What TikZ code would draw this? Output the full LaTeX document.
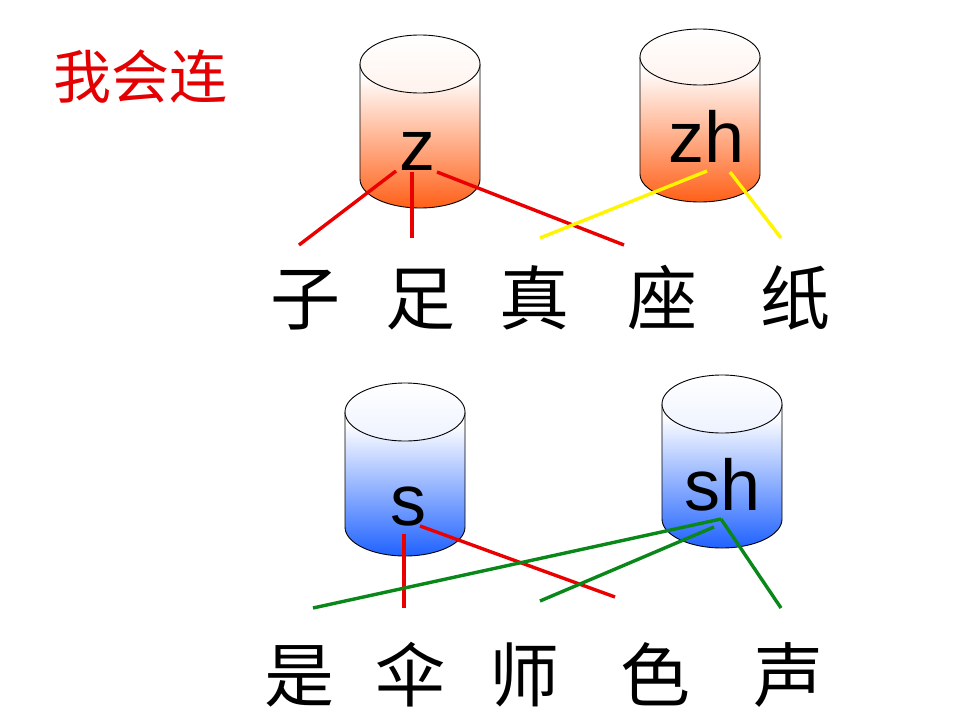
\documentclass[tikz,border=0pt]{standalone}
\usepackage{fontspec}
\setmainfont{Liberation Sans}
\newfontfamily\cjk{Noto Sans CJK SC}
\definecolor{cylred}{RGB}{255,96,24}
\definecolor{cylblue}{RGB}{32,98,255}
\definecolor{lnred}{RGB}{235,0,0}
\definecolor{lnyellow}{RGB}{255,245,0}
\definecolor{lngreen}{RGB}{10,135,25}
\definecolor{titlered}{RGB}{228,0,0}
\tikzset{
  hanzi/.style={font=\cjk\fontsize{70}{70}\selectfont, anchor=base, inner sep=0pt},
  pinyin/.style={font=\fontsize{72}{72}\selectfont, anchor=base, inner sep=0pt},
  link/.style={line width=3.4pt},
}
% \cylinder{name}{cx}{top centre y}{bottom centre y}{ry}{colour}
\newcommand{\cylinder}[6]{%
  \shade[top color=white, bottom color=#6]
    (#2-60,#3+12) -- (#2-60,#4) arc[start angle=180,end angle=360,x radius=60pt,y radius=#5pt]
    -- (#2+60,#3+12) -- cycle;
  \fill[white] (#2-60,#3) rectangle (#2+60,#3+12);
  \draw[line width=0.9pt] (#2-60,#3) -- (#2-60,#4) arc[start angle=180,end angle=360,x radius=60pt,y radius=#5pt]
    -- (#2+60,#3);
  \shade[top color=white, bottom color=#6!8, draw=black, line width=0.9pt]
    (#2,#3) ellipse[x radius=60pt, y radius=#5pt];
  \coordinate (#1) at (#2,#3);
}
\begin{document}
\begin{tikzpicture}[x=1pt,y=-1pt]
\useasboundingbox (0,0) rectangle (960,720);
\fill[white] (0,0) rectangle (960,720);

\node[font=\cjk\fontsize{58}{58}\selectfont, text=titlered, anchor=base, inner sep=0pt] (title) at (140,98) {我会连};

\cylinder{cz}{420}{64}{179}{29}{cylred}
\cylinder{czh}{700}{57}{174}{28}{cylred}
\cylinder{cs}{405}{412}{527}{29}{cylblue}
\cylinder{csh}{722}{404}{519}{29}{cylblue}

\node[pinyin] (z) at (417,170) {z};
\node[pinyin] (zh) at (707,162) {zh};
\node[pinyin] (s) at (408,525) {s};
\node[pinyin] (sh) at (723,510) {sh};

\node[hanzi] (zi) at (305,324) {子};
\node[hanzi] (zu) at (420,324) {足};
\node[hanzi] (zhen) at (534,324) {真};
\node[hanzi] (zuo) at (662,324) {座};
\node[hanzi] (zhi) at (795,324) {纸};

\node[hanzi] (shi) at (299,701) {是};
\node[hanzi] (san) at (410,701) {伞};
\node[hanzi] (shi2) at (524,701) {师};
\node[hanzi] (se) at (655,701) {色};
\node[hanzi] (sheng) at (788,701) {声};

% line end points
\coordinate (z1) at (396,171);
\coordinate (z2) at (412,172);
\coordinate (z3) at (437,172);
\coordinate (zi1) at (299,245);
\coordinate (zu1) at (412,238);
\coordinate (zuo1) at (624,245);
\coordinate (zh1) at (707,171);
\coordinate (zh2) at (730,172);
\coordinate (zhen1) at (540,238);
\coordinate (zhi1) at (781,238);
\coordinate (s1) at (404,534);
\coordinate (s2) at (420,526);
\coordinate (san1) at (404,608);
\coordinate (se1) at (615,597);
\coordinate (sh1) at (721,519);
\coordinate (sh2) at (714,527);
\coordinate (shi1) at (313,608);
\coordinate (shi21) at (540,601);
\coordinate (sheng1) at (781,608);

\draw[link, lnred] (z1) -- (zi1);
\draw[link, lnred] (z2) -- (zu1);
\draw[link, lnred] (z3) -- (zuo1);
\draw[link, lnyellow] (zh1) -- (zhen1);
\draw[link, lnyellow] (zh2) -- (zhi1);
\draw[link, lnred] (s1) -- (san1);
\draw[link, lnred] (s2) -- (se1);
\draw[link, lngreen] (sh1) -- (shi1);
\draw[link, lngreen] (sh2) -- (shi21);
\draw[link, lngreen] (sh1) -- (sheng1);
\end{tikzpicture}
\end{document}
